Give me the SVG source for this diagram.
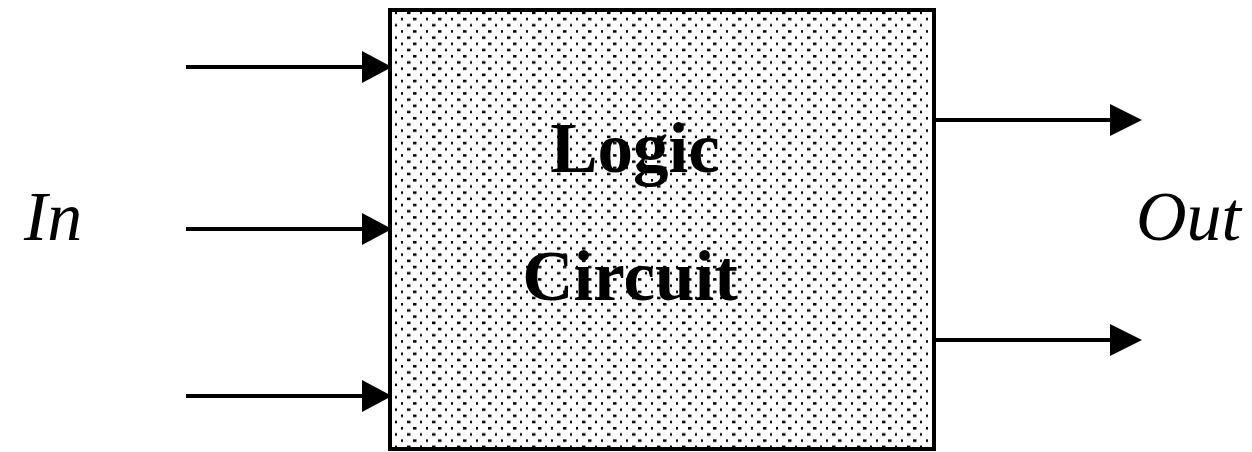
<svg xmlns="http://www.w3.org/2000/svg" width="1252" height="452" viewBox="0 0 1252 452">
<style>
.wire{stroke:#000;stroke-width:4;fill:none}
.lbl{font-family:"Liberation Serif",serif;font-style:italic;font-size:70px;fill:#000}
.title{font-family:"Liberation Serif",serif;font-weight:bold;font-size:71px;fill:#000;text-anchor:middle}
</style>
<defs>
<pattern id="dots" x="400" y="302" width="25" height="12.4" patternUnits="userSpaceOnUse">
<rect x="0" y="0" width="25" height="12.4" fill="#fff"/>
<rect x="1" y="1" width="2" height="2.5" fill="#000"/>
<rect x="13" y="1" width="3.5" height="2.5" fill="#000"/>
<rect x="7" y="7.2" width="3.5" height="2.5" fill="#000"/>
<rect x="20" y="7.2" width="2" height="2.5" fill="#000"/>
</pattern>
</defs>
<g id="logic-circuit">
<rect x="390" y="10" width="544" height="439" fill="url(#dots)" stroke="#000" stroke-width="4"/>
<text class="title" x="635" y="172">Logic</text>
<text class="title" x="630" y="300">Circuit</text>
</g>
<g id="in-label"><text class="lbl" x="24" y="240">In</text></g>
<g id="out-label"><text class="lbl" x="1136" y="240">Out</text></g>
<g id="connectors">
<line class="wire" x1="186" y1="67" x2="366" y2="67"/>
<polygon points="362,51 392,67 362,83" fill="#000"/>
<line class="wire" x1="186" y1="229" x2="366" y2="229"/>
<polygon points="362,213 392,229 362,245" fill="#000"/>
<line class="wire" x1="186" y1="396" x2="366" y2="396"/>
<polygon points="362,380 392,396 362,412" fill="#000"/>
<line class="wire" x1="934" y1="120" x2="1115" y2="120"/>
<polygon points="1110,104 1142,120 1110,136" fill="#000"/>
<line class="wire" x1="934" y1="340" x2="1115" y2="340"/>
<polygon points="1110,324 1142,340 1110,356" fill="#000"/>
</g>
</svg>
